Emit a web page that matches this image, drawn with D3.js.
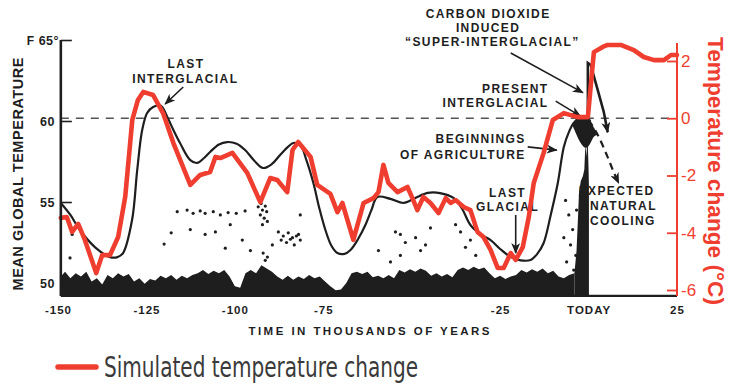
<!DOCTYPE html>
<html><head><meta charset="utf-8">
<script src="https://cdn.jsdelivr.net/npm/d3@7"></script>
<style>body{margin:0;background:#fff}svg{display:block}</style>
</head><body><svg id="c" width="744" height="391"></svg>
<script>
// ---------- data ----------
const xTicks = [-150,-125,-100,-75,-25,0,25];
const xTickLabels = ["-150","-125","-100","-75","-25","TODAY","25"];
const fTicks = [65,60,55,50];
const cTicks = [2,0,-2,-4,-6];

// mean global temperature (°F) vs time (kyr)
const meanTemp = [[-149.2,54.94],[-146.5,54.2],[-143.8,53.27],[-139.5,52.2],[-135.3,51.6],[-133.2,51.6],[-131.6,51.85],[-129.05,53.9],[-127.6,56.98],[-126.2,59.44],[-124.8,60.49],[-123.1,60.86],[-121.0,60.95],[-119.1,60.25],[-117.5,59.5],[-115.5,58.64],[-112.6,57.59],[-110.6,57.41],[-108.8,57.7],[-107.0,58.09],[-104.5,58.55],[-102.2,58.7],[-99.5,58.6],[-97.1,58.21],[-94.5,57.55],[-92.0,57.1],[-89.5,57.35],[-87.2,57.9],[-85.0,58.4],[-83.5,58.64],[-81.5,58.52],[-79.8,57.6],[-77.8,56.17],[-76.1,54.6],[-74.4,53.27],[-72.7,52.3],[-71.0,51.85],[-69.0,51.8],[-67.3,52.04],[-65.2,52.7],[-63.1,53.58],[-61.4,54.5],[-59.7,55.31],[-56.0,55.19],[-52.3,54.94],[-49.0,55.25],[-45.5,55.56],[-42.0,55.55],[-38.2,55.25],[-35.8,54.6],[-33.4,53.58],[-30.5,53.0],[-27.7,52.65],[-25.0,52.1],[-22.0,51.6],[-19.2,51.4],[-16.4,51.42],[-14.5,51.8],[-12.7,52.47],[-10.7,54.2],[-8.7,56.17],[-7.0,58.4],[-5.6,59.3],[-4.2,59.88],[-2.8,60.15],[-1.4,60.19],[0.6,60.0]];

// simulated temperature change (°C) vs time (kyr)
const simulated = [[-149.2,-3.48],[-147.5,-3.45],[-146.0,-3.97],[-144.3,-3.69],[-142.4,-4.25],[-139.2,-5.41],[-137.5,-4.78],[-135.3,-4.78],[-133.0,-4.15],[-131.0,-2.75],[-129.0,-0.06],[-127.4,0.64],[-125.9,0.92],[-123.1,0.81],[-120.3,0.18],[-117.4,-0.86],[-112.6,-2.33],[-109.8,-1.98],[-107.0,-1.88],[-105.5,-1.35],[-104.1,-1.39],[-100.7,-1.21],[-96.5,-1.91],[-92.8,-2.93],[-90.0,-2.09],[-88.0,-2.16],[-85.2,-2.58],[-83.7,-1.11],[-82.1,-0.83],[-78.6,-1.35],[-76.7,-2.33],[-73.0,-2.64],[-71.0,-3.28],[-69.6,-2.96],[-66.5,-4.25],[-63.6,-2.96],[-60.8,-2.79],[-59.4,-2.58],[-58.0,-1.63],[-56.6,-2.26],[-54.0,-2.58],[-51.2,-2.40],[-49.8,-2.79],[-48.4,-3.21],[-46.7,-2.75],[-44.7,-2.96],[-42.4,-3.31],[-40.4,-2.79],[-39.0,-2.96],[-37.6,-2.86],[-35.3,-3.10],[-33.4,-3.21],[-31.4,-3.97],[-29.7,-4.15],[-27.7,-4.60],[-25.7,-5.23],[-24.0,-5.23],[-22.0,-4.71],[-20.6,-4.95],[-18.6,-4.50],[-16.9,-3.45],[-15.5,-2.26],[-12.7,-1.21],[-10.1,-0.06],[-7.0,0.18],[-3.1,0.04],[-0.2,0.04],[1.5,2.31],[4.0,2.49],[5.4,2.56],[9.1,2.56],[12.8,2.38],[15.6,2.14],[18.5,2.03],[21.3,2.03],[23.3,2.21],[25,2.21]];

// CO2 "super-interglacial" spike and expected natural cooling (°F)
const superInterglacial = [[-0.2,60.1],[-0.2,63.58],[0.6,63.46],[2.6,61.91],[4.3,60.56],[5.4,59.3]];
const naturalCooling = [[0.06,60.06],[2.6,59.14],[5.15,57.9],[7.1,56.85],[8.5,56.17]];

// scanned record texture: top of the dark band (°F)
const bandTop = [[-149.2,50.4],[-148,50.7],[-146.5,50.3],[-145,50.6],[-143.5,50.4],[-142,50.7],[-140.5,50.1],[-139,50.3],[-137.5,49.9],[-136,50.5],[-134.5,50.3],[-133,50.6],[-131.5,50.4],[-130,50.55],[-128.5,50.1],[-127,50.3],[-125.5,49.95],[-124,50.25],[-122.5,50.15],[-121,50.45],[-119.5,50.3],[-118,50.5],[-116.5,50.2],[-115,50.45],[-113.5,50.3],[-112,50.5],[-110.5,50.6],[-109,50.8],[-107.5,50.55],[-106,50.75],[-104.5,50.6],[-103,50.8],[-101.5,50.4],[-100,49.8],[-98.5,49.7],[-97,50.6],[-95.5,50.8],[-94,50.6],[-92.5,51.1],[-91,50.9],[-89.5,50.7],[-88,50.4],[-86.5,50.2],[-85,50.45],[-83.5,50.2],[-82,50.4],[-80.5,50.25],[-79,50.5],[-77.5,50.3],[-76,50.4],[-74.5,50.1],[-73,49.8],[-71.5,49.55],[-70,49.6],[-68.5,50.0],[-67,50.6],[-65.5,50.7],[-64,50.55],[-62.5,50.7],[-61,50.35],[-59.5,50.45],[-58,50.3],[-56.5,50.5],[-55,50.3],[-53.5,50.8],[-52,50.65],[-50.5,50.85],[-49,50.7],[-47.5,50.9],[-46,50.75],[-44.5,50.45],[-43,50.6],[-41.5,50.4],[-40,50.55],[-38.5,50.35],[-37,50.8],[-35.5,50.95],[-34,50.8],[-32.5,51.0],[-31,50.85],[-29.5,50.95],[-28,50.6],[-26.5,50.3],[-25,50.45],[-23.5,50.25],[-22,50.4],[-20.5,50.5],[-19,50.8],[-17.5,50.65],[-16,50.85],[-14.5,50.7],[-13,50.9],[-11.5,50.6],[-10,50.75],[-8.5,50.4],[-7,50.3],[-5.5,50.5],[-4,50.6]];
const todayColumn = [[-4.0,50.6],[-3.4,52.0],[-3.0,54.0],[-2.7,55.6],[-2.2,56.3],[-1.6,56.6],[-1.2,57.0],[-0.9,58.6],[-0.6,57.8],[-0.3,59.2],[0.0,57.0],[0.1,56.0],[0.1,49.2]];
const peakCap = [[-4.5,59.75,59.7],[-3.5,60.05,59.2],[-2.5,60.15,58.7],[-1.5,60.2,58.4],[-0.5,60.15,58.3],[0.5,60.0,58.6],[1.5,59.6,59.1],[2.5,59.2,59.15]];
const specks = [[-116.3,54.4],[-113.5,54.5],[-111.8,54.3],[-109.8,54.45],[-108.4,54.3],[-106.1,54.4],[-104.1,54.2],[-101.9,54.35],[-99.6,54.3],[-97.1,54.45],
 [-93.4,54.7],[-92.2,54.5],[-91.4,54.75],[-92.8,54.2],[-91.7,54.0],[-90.8,53.8],[-92.2,53.6],[-92.6,54.9],[-91.0,54.4],
 [-87.7,53.15],[-86.3,52.9],[-84.9,53.1],[-83.7,52.8],[-82.6,52.9],[-81.5,52.65],[-85.4,52.5],[-83.2,52.35],[-86.9,52.65],[-84.3,52.7],[-82.0,53.0],
 [-92.0,51.85],[-90.8,51.6],[-91.4,51.4],
 [-112.6,53.3],[-108.4,53.0],[-105.5,53.15],[-101.3,53.6],[-97.9,52.65],[-95.6,52.0],[-89.4,52.35],[-81.5,54.2],[-102.7,52.15],[-118,53.1],[-120,52.4],
 [-54.6,53.15],[-53.2,53.0],[-51.8,52.5],[-48.9,52.8],[-47.5,52.0],[-46.1,52.35],[-53.2,51.7],[-59.4,52.0],[-56.0,51.3],[-44.7,53.4],[-37.6,53.6],[-36.2,53.15],[-34.8,52.2],[-33.4,52.65],[-31.9,51.7],
 [-6.5,55.1],[-5.6,54.2],[-4.5,53.3],[-5.1,52.35],[-3.6,51.7],[-6.2,51.3],[-2.8,52.65],[-3.4,54.5],[-4.2,50.8],[-5.6,50.2],[-2.3,55.4],[-7.0,52.8],
 [-146.6,51.55],[-146.0,53.0]];

// annotation text lines [text, kyr, °F baseline, anchor]
const annotLines = [
 ["LAST",-113.8,63.27,"middle"],["INTERGLACIAL",-114.0,62.35,"middle"],
 ["CARBON DIOXIDE",-28.4,66.36,"middle"],["INDUCED",-28.4,65.5,"middle"],["\u201cSUPER-INTERGLACIAL\u201d",-27.2,64.63,"middle"],
 ["PRESENT",-11.3,61.73,"end"],["INTERGLACIAL",-11.3,60.86,"end"],
 ["BEGINNINGS",-17.8,58.64,"end"],["OF AGRICULTURE",-17.8,57.65,"end"],
 ["LAST",-22.9,55.31,"middle"],["GLACIAL",-22.9,54.44,"middle"],
 ["EXPECTED",-2.8,55.43,"start"],["NATURAL",0.4,54.5,"start"],["COOLING",0.4,53.58,"start"]];
const arrows = [[[-114.6,62.1],[-119.7,61.05]],[[-22.0,64.2],[-1.6,61.75]],[[-9.3,61.23],[-2.3,60.3]],[[-17.2,58.4],[-9.0,58.2]],[[-20.6,54.2],[-20.6,51.85]]];

// ---------- drawing ----------
const RED = "#ef3e2f", INK = "#1e1e1e";
const svg = d3.select("#c");
svg.append("rect").attr("width",744).attr("height",391).attr("fill","#fff");
const x = d3.scaleLinear().domain([-150,25]).range([58,677]);
const yF = d3.scaleLinear().domain([50,65]).range([283,40]);
const yC = d3.scaleLinear().domain([-6,2]).range([290,61]);
const xL = x(-149.2), xR = x(25), yB = yF(49.2);

const defs = svg.append("defs");
defs.append("marker").attr("id","ah").attr("markerUnits","userSpaceOnUse")
  .attr("markerWidth",11).attr("markerHeight",9).attr("refX",10).attr("refY",4.5).attr("orient","auto")
  .append("path").attr("d","M0,0L11,4.5L0,9L3,4.5Z").attr("fill",INK);

// zero line
svg.append("line").attr("x1",xL).attr("x2",xR).attr("y1",yC(0)).attr("y2",yC(0))
  .attr("stroke","#555").attr("stroke-width",1.5).attr("stroke-dasharray","8,7");

// annotations text (under texture)
const ann = svg.append("g").attr("font-family","'Liberation Sans',Arial,sans-serif").attr("font-weight","bold")
  .attr("font-size",12).attr("letter-spacing",1.4).attr("fill",INK);
ann.selectAll("text").data(annotLines).join("text")
  .attr("x",d=>x(d[1])).attr("y",d=>yF(d[2])).attr("text-anchor",d=>d[3]).text(d=>d[0]);

// texture
svg.append("path").datum(bandTop)
  .attr("d",d3.area().x(d=>x(d[0])).y0(yB).y1(d=>yF(d[1])))
  .attr("fill",INK);
svg.append("path").datum(todayColumn)
  .attr("d",d3.area().x(d=>x(d[0])).y0(yB).y1(d=>yF(d[1])))
  .attr("fill",INK);
svg.append("path").datum(peakCap)
  .attr("d",d3.area().curve(d3.curveBasis).x(d=>x(d[0])).y0(d=>yF(d[2])).y1(d=>yF(d[1])))
  .attr("fill",INK);
svg.append("g").selectAll("circle").data(specks).join("circle")
  .attr("cx",d=>x(d[0])).attr("cy",d=>yF(d[1])).attr("r",1.6).attr("fill",INK);

// mean temperature curve
svg.append("path").datum(meanTemp)
  .attr("d",d3.line().curve(d3.curveCatmullRom.alpha(0.5)).x(d=>x(d[0])).y(d=>yF(d[1])))
  .attr("fill","none").attr("stroke",INK).attr("stroke-width",2.2);
svg.append("path").datum(superInterglacial)
  .attr("d",d3.line().x(d=>x(d[0])).y(d=>yF(d[1])))
  .attr("fill","none").attr("stroke",INK).attr("stroke-width",2.6).attr("marker-end","url(#ah)");
svg.append("path").datum(naturalCooling)
  .attr("d",d3.line().curve(d3.curveCatmullRom).x(d=>x(d[0])).y(d=>yF(d[1])))
  .attr("fill","none").attr("stroke",INK).attr("stroke-width",2.2).attr("stroke-dasharray","7,5").attr("marker-end","url(#ah)");

// arrows
svg.append("g").selectAll("path").data(arrows).join("path")
  .attr("d",d3.line().x(d=>x(d[0])).y(d=>yF(d[1])))
  .attr("fill","none").attr("stroke",INK).attr("stroke-width",1.6).attr("marker-end","url(#ah)");

// simulated (red)
svg.append("path").datum(simulated)
  .attr("d",d3.line().x(d=>x(d[0])).y(d=>yC(d[1])))
  .attr("fill","none").attr("stroke",RED).attr("stroke-width",4.6).attr("stroke-linejoin","round").attr("stroke-linecap","round");

// axes frame
svg.append("line").attr("x1",xL).attr("x2",xL).attr("y1",yF(65)).attr("y2",yB).attr("stroke",INK).attr("stroke-width",2.6);
svg.append("line").attr("x1",xL).attr("x2",xR).attr("y1",yB).attr("y2",yB).attr("stroke",INK).attr("stroke-width",2.2);

const gL = svg.append("g").attr("transform",`translate(${xL},0)`)
  .call(d3.axisLeft(yF).tickValues(fTicks).tickSize(-11).tickPadding(6).tickFormat(d=>d===65?"65\u00b0":String(d)));
gL.select(".domain").remove();
gL.selectAll("line").attr("stroke",INK).attr("stroke-width",1.6);
gL.selectAll("text").attr("font-family","'Liberation Sans',Arial,sans-serif").attr("font-weight","bold")
  .attr("font-size",12.5).attr("fill",INK).attr("letter-spacing",0.4)
  .attr("dx",d=>d===65?4:0);
svg.append("text").attr("x",xL-34).attr("y",yF(65)+4.5).attr("font-family","'Liberation Sans',Arial,sans-serif")
  .attr("font-weight","bold").attr("font-size",12).attr("fill",INK).text("F");

const gB = svg.append("g").attr("transform",`translate(0,${yB})`)
  .call(d3.axisBottom(x).tickValues(xTicks).tickSize(0).tickPadding(10).tickFormat((d,i)=>xTickLabels[i]));
gB.select(".domain").remove();
gB.selectAll("text").attr("font-family","'Liberation Sans',Arial,sans-serif").attr("font-weight","bold")
  .attr("font-size",11.5).attr("fill",INK).attr("letter-spacing",1);

const gR = svg.append("g").attr("transform",`translate(${xR},0)`)
  .call(d3.axisRight(yC).tickValues(cTicks).tickSize(-10).tickPadding(4).tickFormat(d=>String(d)));
gR.select(".domain").remove();
svg.append("line").attr("x1",xR).attr("x2",xR).attr("y1",yC(2.63)).attr("y2",yB).attr("stroke",RED).attr("stroke-width",2);
gR.selectAll("line").attr("stroke",RED).attr("stroke-width",1.8);
gR.selectAll("text").attr("font-family","'Liberation Sans',Arial,sans-serif").attr("font-size",17).attr("fill",RED);

// axis titles
svg.append("text").attr("x",369).attr("y",335).attr("text-anchor","middle")
  .attr("font-family","'Liberation Sans',Arial,sans-serif").attr("font-weight","bold").attr("font-size",11.5)
  .attr("fill",INK).attr("textLength",241).attr("lengthAdjust","spacing").text("TIME IN THOUSANDS OF YEARS");
svg.append("text").attr("transform","translate(23,174) rotate(-90)").attr("text-anchor","middle")
  .attr("font-family","'Liberation Sans',Arial,sans-serif").attr("font-weight","bold").attr("font-size",14.5)
  .attr("fill",INK).attr("textLength",233).attr("lengthAdjust","spacing").text("MEAN GLOBAL TEMPERATURE");
svg.append("text").attr("transform","translate(708,171) rotate(90)").attr("text-anchor","middle")
  .attr("font-family","'Liberation Sans',Arial,sans-serif").attr("font-weight","bold").attr("font-size",22)
  .attr("fill",RED).attr("textLength",268).attr("lengthAdjust","spacingAndGlyphs").text("Temperature change (\u00b0C)");

// legend
svg.append("line").attr("x1",58).attr("x2",96).attr("y1",367).attr("y2",367).attr("stroke",RED).attr("stroke-width",5.5).attr("stroke-linecap","round");
svg.append("text").attr("x",104).attr("y",377)
  .attr("font-family","'Liberation Sans Narrow','DejaVu Sans Condensed',sans-serif").attr("font-size",28)
  .attr("fill","#3a3a3a").attr("textLength",314).attr("lengthAdjust","spacingAndGlyphs").text("Simulated temperature change");
</script></body></html>
